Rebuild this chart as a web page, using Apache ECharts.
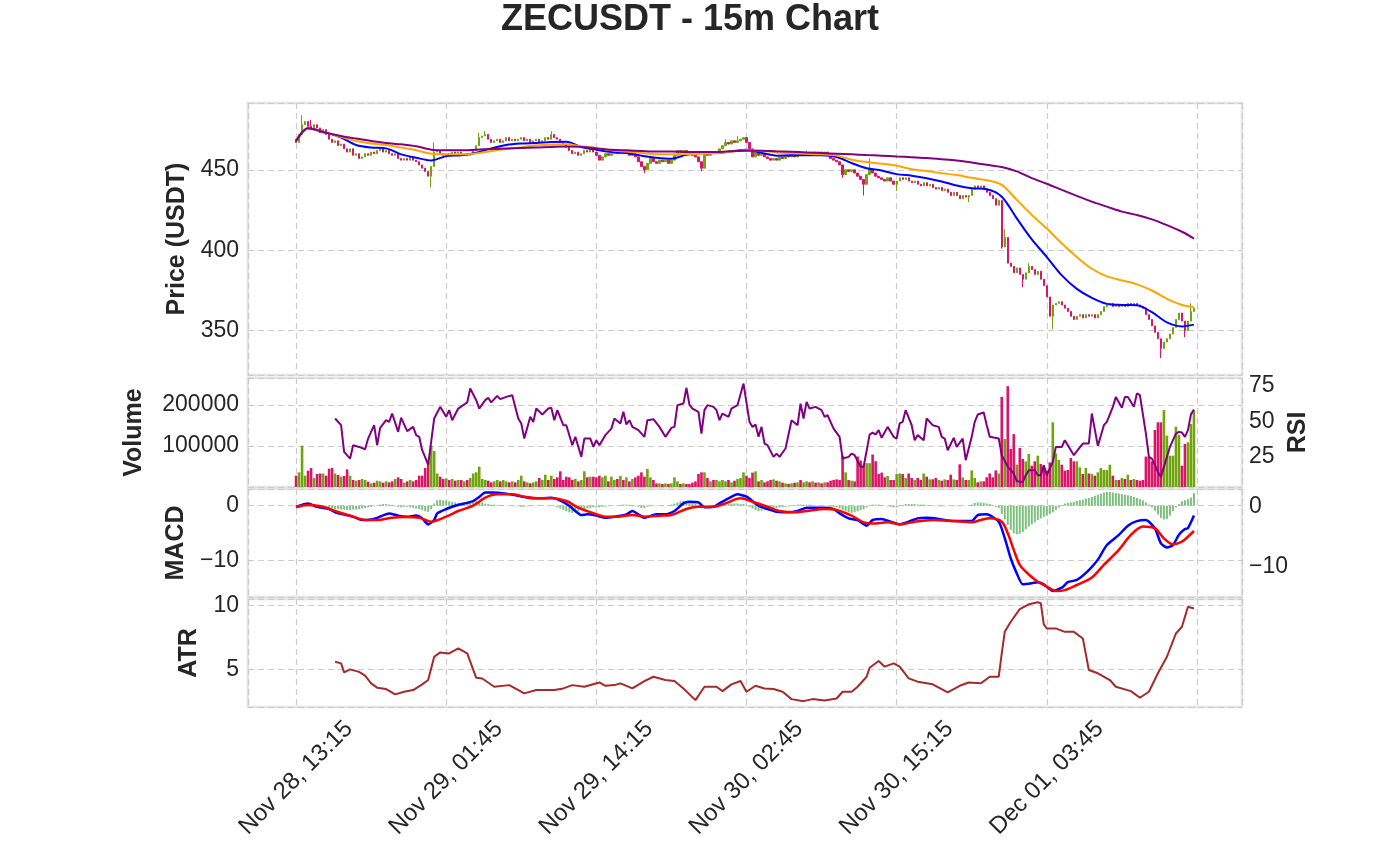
<!DOCTYPE html>
<html>
<head>
<meta charset="utf-8">
<title>ZECUSDT - 15m Chart</title>
<script src="https://cdn.jsdelivr.net/npm/echarts@6/dist/echarts.min.js"></script>
<style>
html, body { margin: 0; padding: 0; background: #fff; }
#app { width: 1380px; height: 862px; }
</style>
</head>
<body>
<div id="app"></div>
<script>
// x axis: candle index of each labelled tick
var tickIdx = [0, 50, 100, 150, 200, 250];
var tickLabels = ['Nov 28, 13:15', 'Nov 29, 01:45', 'Nov 29, 14:15', 'Nov 30, 02:45', 'Nov 30, 15:15', 'Dec 01, 03:45'];

// 15m candles, open of each candle = previous close
var firstOpen = 469;
var closes = [
  467,472,478,480,477,475,478,476,473,475,
  472,469,467,468,465,466,463,461,463,459,
  460,457,458,460,459,461,460,462,463,461,
  462,460,459,460,457,456,457,456,458,456,
  455,453,451,449,446,452,461,462,460,459,
  460,459,461,460,461,459,460,459,460,462,
  465,470,471,472,469,467,468,469,467,468,
  470,468,469,468,469,470,468,469,467,468,
  469,467,468,470,469,472,470,469,467,466,
  464,462,460,461,459,460,462,461,463,461,
  459,456,458,460,459,460,461,460,461,460,
  461,459,460,458,455,452,450,454,457,455,
  454,456,455,456,454,456,459,462,461,462,
  461,460,459,458,455,451,460,459,461,460,
  461,463,465,467,466,468,467,468,469,470,
  467,463,458,461,459,460,458,457,456,457,
  456,458,457,459,458,459,458,460,459,460,
  461,460,461,460,461,460,461,459,457,456,
  455,453,447,450,449,450,448,446,444,441,
  447,450,448,446,445,444,443,445,443,441,
  443,445,444,445,443,442,443,441,440,442,
  440,441,439,438,439,437,438,436,434,436,
  434,432,434,433,434,438,440,439,440,438,
  436,434,432,428,431,402,408,392,390,386,
  389,385,382,386,390,388,385,387,382,378,
  371,359,366,367,368,366,364,362,359,357,
  359,360,358,360,359,360,358,360,362,365,
  366,367,365,366,365,366,365,367,366,367,
  366,365,364,360,357,353,349,345,339,343,
  345,348,352,357,361,356,350,356,362,364
];
// visible long wicks [index, price]
var wickHighs = [[2, 484], [5, 481], [46, 467], [61, 473], [63, 474], [85, 474], [143, 469], [147, 471], [170, 462], [191, 457], [236, 413], [244, 392], [298, 367]];
var wickLows = [[45, 439], [116, 448], [135, 449], [182, 445], [189, 434], [200, 437], [224, 430], [235, 401], [242, 377], [252, 351], [288, 333], [296, 346]];

var volumes = [
  27600,35800,100800,27600,39800,46300,22000,31700,33000,33000,
  27600,44600,46300,33000,29300,25200,26800,43000,27600,17100,
  15400,17100,19500,17100,13000,8900,10600,15400,13800,10600,
  13800,11400,13800,19500,23600,19500,10600,13800,17100,13800,
  17100,27600,27600,46300,62000,101000,88000,33000,25200,19500,
  21100,17100,19500,15400,17100,17100,13800,17100,22000,33000,
  35800,49600,19500,17100,15400,11400,13800,17100,13800,17100,
  13800,11400,13800,11400,17100,27600,13800,11400,8900,11400,
  13800,22000,17100,30100,17100,27600,19500,23600,38300,17100,
  25200,23600,17100,19500,13800,17100,38300,23600,25200,25200,
  23600,27600,23600,27600,13800,25200,17100,19500,26800,17100,
  23600,13800,19500,23600,27600,35800,25200,43900,23600,17100,
  8900,8900,7300,8900,7300,8900,23600,13800,7300,8900,
  7300,7300,10600,13800,31700,35800,35800,22000,13800,17100,
  17100,13800,17100,13800,17100,11400,15400,19500,22000,35800,
  27600,22000,35000,38300,13800,17100,11400,13800,17100,18700,
  15400,13800,10600,8900,7300,8900,10600,11400,17100,11400,
  13800,11400,13800,10600,11400,8900,11400,11400,15400,17100,
  18700,17100,76600,35800,17100,15400,13800,74300,64600,52400,
  58100,58100,79200,63000,31700,35000,23600,26800,17100,17100,
  31700,33000,31700,22000,33000,22000,17100,22000,17100,33000,
  25200,18700,18700,22000,17100,15400,18700,17100,30100,18700,
  17100,55300,23600,17100,17100,40600,22000,11400,13800,13800,
  23600,33000,23600,40600,33000,220000,117000,246000,92700,129000,
  54500,95100,68300,62600,80500,52000,62600,76400,56100,48000,
  39800,60000,157800,82100,65900,54500,39800,41500,70700,62600,
  62600,48000,31700,46300,33000,31700,27600,35800,46300,41500,
  41500,54500,27600,17100,17100,22000,19500,30100,17100,19500,
  17100,15400,17100,74300,74300,62600,139000,157800,157800,187800,
  125200,76400,76400,147100,127600,52000,104900,109000,153700,186200
];

// moving averages, read every few candles
var emaIdx = [0,4,10,15,20,25,30,35,40,45,50,55,60,65,70,75,80,85,90,95,100,105,110,115,120,125,130,135,140,145,150,155,160,165,170,175,180,185,190,195,200,205,210,215,220,225,230,235,240,245,250,255,260,265,270,275,280,285,290,295,299];
var emaFast = [467.9,475.8,473.1,470.0,465.4,463.8,463.3,459.6,457.5,455.8,458.5,459.0,460.6,463.3,465.4,466.3,466.7,467.3,467.5,464.2,462.5,461.0,460.4,458.8,457.5,456.9,459.4,460.4,460.4,461.5,462.5,460.5,458.8,459.0,459.0,459.0,457.9,454.2,451.0,449.6,447.3,446.3,444.8,442.7,440.2,438.5,437.9,433.3,419.8,406.7,395.8,384.4,376.0,370.4,366.7,366.0,365.8,361.5,355.2,352.7,353.8];
var emaMid = [467.9,475.6,473.1,470.4,467.9,466.3,465.4,463.8,462.1,460.0,459.6,459.6,460.2,461.7,462.9,464.0,465.2,465.6,465.8,464.6,463.5,462.1,461.3,460.4,459.6,459.6,459.8,460.0,460.4,461.3,462.1,461.8,460.8,460.4,460.0,459.6,458.8,456.3,454.8,453.8,452.5,450.4,449.2,447.9,446.7,445.0,443.5,440.6,431.3,421.9,413.5,404.2,395.8,388.5,383.8,381.3,378.8,375.0,369.8,366.0,364.6];
var emaSlow = [467.9,475.8,473.0,471.0,469.4,467.9,466.7,465.8,464.6,462.5,462.1,462.1,462.5,462.9,463.3,463.6,463.8,464.2,464.4,464.2,463.3,462.5,462.1,461.7,461.3,461.3,461.0,461.0,461.0,461.5,461.9,461.9,461.5,461.2,460.8,460.4,460.0,459.6,459.2,458.8,458.3,457.8,457.3,456.6,455.8,454.5,453.1,451.7,449.0,444.8,441.3,437.5,433.8,430.2,427.1,424.0,421.9,419.2,415.6,411.5,407.3];

// RSI [index, value]
var rsiPoints = [[13,52.1],[15,47.4],[16,28.6],[18,23.9],[19,33.3],[21,32.1],[23,30.5],[24,38.0],[26,47.4],[27,33.3],[28,45.5],[30,50.9],[31,49.7],[32,55.6],[34,42.7],[35,52.6],[37,43.2],[39,46.2],[40,40.4],[41,39.2],[42,29.8],[44,19.7],[46,52.1],[48,60.3],[50,53.3],[51,58.0],[52,50.9],[54,59.1],[57,63.4],[58,73.2],[60,65.0],[61,59.1],[63,65.0],[64,66.6],[65,63.4],[67,68.0],[68,65.7],[70,67.3],[72,68.5],[74,52.1],[75,48.6],[76,38.0],[78,53.3],[79,49.7],[80,59.1],[82,54.9],[84,59.1],[85,59.6],[86,50.9],[87,58.0],[89,47.4],[90,47.4],[92,33.3],[93,39.2],[95,25.1],[96,38.0],[98,38.0],[99,32.1],[100,36.8],[101,33.3],[103,40.4],[105,45.0],[106,52.1],[108,48.6],[109,56.8],[110,47.9],[111,50.9],[112,46.2],[114,43.9],[116,39.2],[117,50.9],[119,51.6],[121,46.2],[123,39.2],[125,45.5],[126,46.2],[127,61.5],[129,62.6],[130,73.7],[131,61.9],[132,59.1],[134,56.8],[135,41.5],[136,58.0],[137,61.5],[139,60.3],[140,58.0],[141,50.9],[142,55.6],[144,53.3],[145,59.1],[147,61.5],[149,76.7],[151,49.7],[152,46.2],[153,47.9],[154,39.2],[155,46.2],[156,34.5],[157,33.3],[159,25.1],[160,27.4],[161,25.1],[163,31.0],[165,50.9],[167,47.4],[168,62.6],[169,52.1],[170,63.8],[171,59.1],[173,60.3],[175,58.0],[176,53.3],[177,54.4],[179,45.0],[181,39.2],[182,23.9],[184,25.1],[185,27.4],[186,26.3],[188,18.1],[189,18.1],[191,40.8],[192,42.2],[193,40.8],[194,43.9],[195,38.5],[197,46.2],[199,39.2],[200,38.0],[201,48.6],[202,49.7],[203,58.0],[205,47.4],[206,36.8],[207,40.4],[209,36.8],[210,52.1],[212,47.4],[214,46.2],[215,39.2],[216,38.0],[217,29.8],[219,38.5],[220,32.1],[222,38.0],[223,22.8],[225,39.2],[226,49.7],[227,54.9],[229,56.3],[230,47.4],[231,39.2],[234,38.0],[235,26.3],[237,18.1],[239,13.4],[240,8.0],[242,7.5],[243,12.2],[244,15.7],[246,15.7],[247,12.2],[248,12.2],[249,19.2],[250,12.2],[252,21.6],[253,32.1],[255,32.1],[256,36.8],[259,26.3],[260,29.1],[262,34.5],[264,34.5],[265,55.6],[267,32.8],[269,47.4],[270,49.7],[272,60.3],[273,67.3],[275,59.6],[276,67.3],[277,67.3],[279,60.3],[280,69.7],[281,68.5],[283,41.5],[284,25.1],[285,23.9],[287,14.5],[288,11.0],[290,25.1],[291,32.1],[293,41.5],[294,42.7],[295,42.2],[296,39.2],[297,43.9],[298,55.0],[299,58.4]];

// MACD line (left axis) and signal (right axis) [index, value]
var macdPoints = [[0,-0.2],[4,0.4],[7,-0.2],[11,-0.6],[13,-1.2],[16,-1.6],[19,-2.0],[22,-2.6],[25,-2.5],[27,-2.2],[31,-1.4],[34,-1.8],[37,-2.0],[40,-1.8],[42,-2.3],[44,-3.4],[46,-2.6],[47,-1.4],[50,-0.6],[53,0.0],[56,0.4],[59,0.85],[61,1.6],[63,2.4],[65,2.4],[70,2.2],[74,1.8],[79,1.34],[82,1.34],[85,1.46],[87,1.2],[91,0.0],[93,-0.96],[95,-1.7],[97,-1.57],[100,-1.8],[103,-2.2],[106,-2.0],[110,-1.57],[112,-0.96],[114,-1.57],[116,-2.2],[120,-1.57],[123,-1.57],[126,-0.96],[129,0.43],[131,0.73],[134,0.6],[136,-0.3],[139,-0.18],[141,0.43],[144,1.34],[147,2.07],[150,1.64],[154,0.0],[157,-0.6],[160,-1.08],[164,-1.2],[167,-0.96],[170,-0.36],[175,-0.36],[179,-0.6],[181,-1.4],[184,-2.3],[187,-2.6],[190,-3.63],[192,-2.6],[195,-2.4],[198,-2.9],[201,-3.4],[204,-2.9],[207,-2.3],[210,-2.2],[214,-2.4],[217,-2.7],[220,-2.8],[225,-2.8],[227,-1.7],[230,-1.57],[234,-2.9],[236,-5.9],[238,-9.6],[240,-12.3],[242,-14.3],[245,-14.1],[247,-13.9],[249,-14.3],[252,-15.5],[255,-14.9],[257,-13.9],[260,-13.5],[264,-11.7],[267,-9.8],[270,-7.15],[274,-5.3],[277,-3.63],[280,-2.8],[283,-2.6],[286,-4.1],[288,-6.85],[290,-7.6],[292,-7.15],[294,-5.3],[296,-4.24],[297,-4.1],[299,-1.8]];
var signalPoints = [[0,-0.1],[4,0.28],[9,0.0],[13,-0.72],[18,-1.5],[23,-2.2],[27,-2.2],[32,-1.83],[36,-1.72],[41,-1.83],[45,-2.5],[50,-1.66],[54,-0.72],[59,0.17],[63,1.5],[67,2.06],[72,2.06],[76,1.67],[81,1.39],[85,1.39],[90,0.95],[94,-0.16],[99,-1.1],[103,-1.66],[107,-1.66],[112,-1.38],[116,-1.66],[121,-1.5],[125,-1.38],[130,-0.38],[134,0.0],[139,0.0],[143,0.56],[148,1.39],[152,0.83],[157,0.0],[161,-0.72],[166,-0.94],[170,-0.72],[176,-0.38],[180,-0.55],[185,-1.5],[189,-2.6],[192,-2.8],[197,-2.6],[201,-2.94],[206,-2.5],[212,-2.22],[219,-2.4],[225,-2.6],[228,-2.22],[231,-1.94],[235,-2.5],[237,-4.44],[239,-7.2],[241,-9.7],[244,-11.3],[247,-12.5],[250,-13.3],[253,-14.05],[256,-13.9],[260,-13.05],[265,-11.8],[269,-9.7],[274,-7.2],[278,-4.7],[282,-3.3],[286,-3.6],[289,-5.27],[292,-6.27],[295,-5.83],[297,-5.0],[299,-4.05]];
var histVals = [
  0.1,0.2,0.3,0.3,0.3,0.2,0.1,0.0,-0.1,-0.2,
  -0.3,-0.4,-0.5,-0.6,-0.6,-0.7,-0.7,-0.8,-0.8,-0.7,
  -0.7,-0.6,-0.5,-0.4,-0.3,-0.2,-0.1,0.1,0.2,0.3,
  0.3,0.2,0.1,-0.1,-0.2,-0.3,-0.2,-0.2,-0.3,-0.4,
  -0.5,-0.6,-0.8,-1.0,-1.1,-0.6,0.4,1.0,1.1,1.0,
  0.9,0.8,0.7,0.6,0.5,0.5,0.5,0.6,0.7,0.8,
  0.8,0.7,0.6,0.4,0.3,0.2,0.2,0.1,0.1,0.1,
  0.0,0.0,-0.1,-0.1,-0.1,-0.2,-0.2,-0.1,-0.1,0.0,
  0.0,0.1,0.0,0.0,-0.1,0.0,-0.1,-0.3,-0.5,-0.8,
  -1.0,-1.2,-1.3,-1.2,-1.0,-0.8,-0.6,-0.5,-0.4,-0.3,
  -0.3,-0.3,-0.2,-0.2,-0.1,0.0,0.0,0.1,0.1,0.2,
  0.2,0.1,0.1,-0.1,-0.2,-0.4,-0.4,-0.2,-0.1,0.0,
  -0.1,0.0,-0.1,0.0,0.1,0.2,0.4,0.6,0.8,0.9,
  0.9,0.8,0.6,0.4,0.1,-0.2,-0.1,-0.1,0.0,0.0,
  0.1,0.2,0.3,0.3,0.4,0.4,0.4,0.4,0.3,0.3,
  0.2,-0.2,-0.5,-0.8,-1.0,-0.9,-0.8,-0.6,-0.5,-0.4,
  -0.4,-0.3,-0.3,-0.2,-0.1,0.0,0.1,0.2,0.2,0.2,
  0.2,0.2,0.1,0.1,0.0,0.0,-0.1,-0.1,-0.2,-0.2,
  -0.3,-0.5,-0.8,-1.0,-1.2,-1.3,-1.2,-1.0,-0.8,-0.6,
  -0.3,0.0,0.2,0.2,0.2,0.1,0.0,-0.1,-0.2,-0.3,
  -0.3,-0.1,0.1,0.3,0.3,0.3,0.3,0.2,0.2,0.2,
  0.1,0.1,0.0,-0.1,-0.1,-0.1,-0.1,0.0,0.0,-0.1,
  -0.1,-0.1,0.0,0.0,0.1,0.2,0.5,0.6,0.6,0.5,
  0.4,0.3,0.1,-0.2,-0.4,-1.5,-2.5,-3.5,-4.4,-5.0,
  -5.2,-5.1,-4.8,-4.3,-3.8,-3.4,-3.0,-2.6,-2.3,-2.0,
  -1.8,-1.5,-1.2,-0.8,-0.3,0.1,0.4,0.5,0.6,0.7,
  0.9,1.0,1.1,1.3,1.4,1.6,1.8,2.0,2.2,2.4,
  2.5,2.5,2.4,2.3,2.2,2.1,2.0,1.9,1.8,1.6,
  1.4,1.2,1.0,0.6,0.2,-0.3,-0.9,-1.6,-2.2,-2.5,
  -2.4,-1.8,-1.0,-0.3,0.3,0.8,1.0,1.2,1.5,2.3
];

// ATR [index, value]
var atrPoints = [[13,5.6],[15,5.47],[16,4.76],[18,5.0],[21,4.8],[23,4.5],[25,3.9],[27,3.56],[30,3.45],[33,3.03],[36,3.24],[39,3.37],[42,3.82],[44,4.16],[46,5.99],[48,6.33],[51,6.25],[54,6.64],[57,6.25],[60,4.33],[62,4.28],[66,3.63],[71,3.76],[76,3.11],[80,3.37],[86,3.37],[89,3.5],[92,3.76],[96,3.63],[101,3.97],[103,3.71],[106,3.76],[108,3.9],[112,3.5],[116,4.08],[119,4.42],[123,4.16],[126,4.08],[129,3.5],[133,2.58],[136,3.63],[140,3.63],[142,3.29],[145,3.82],[148,4.08],[150,3.24],[153,3.71],[156,3.5],[159,3.45],[162,3.24],[165,2.66],[169,2.5],[172,2.66],[176,2.55],[180,2.71],[182,3.24],[185,3.24],[187,3.63],[190,4.42],[191,5.13],[194,5.66],[196,5.21],[199,5.47],[201,5.21],[204,4.29],[207,4.03],[212,3.82],[217,3.19],[221,3.71],[224,3.97],[228,3.9],[231,4.42],[234,4.42],[235,6.25],[236,7.95],[238,8.74],[241,9.74],[244,10.11],[247,10.27],[248,10.2],[249,8.54],[250,8.22],[253,8.22],[256,7.95],[259,7.95],[262,7.43],[264,4.95],[267,4.69],[271,4.16],[273,3.63],[278,3.29],[281,2.77],[284,3.24],[287,4.69],[290,5.99],[293,7.82],[295,8.35],[297,9.92],[299,9.79]];

var FONT = '"Liberation Sans", Arial, sans-serif';
var INK = '#262626';
var UP = '#6fa40c', DOWN = '#dc1468';

var hiMap = {}, loMap = {};
wickHighs.forEach(function (w) { hiMap[w[0]] = w[1]; });
wickLows.forEach(function (w) { loMap[w[0]] = w[1]; });

var candles = closes.map(function (c, i) {
  var o = i === 0 ? firstOpen : closes[i - 1];
  var h = hiMap[i] != null ? hiMap[i] : Math.max(o, c);
  var l = loMap[i] != null ? loMap[i] : Math.min(o, c);
  return [i, o, c, l, h];
});

var volData = volumes.map(function (v, i) {
  var o = i === 0 ? firstOpen : closes[i - 1];
  return { value: [i, v], itemStyle: { color: closes[i] >= o ? UP : DOWN } };
});

function zipIdx(idx, vals) { return idx.map(function (x, k) { return [x, vals[k]]; }); }

var dashed = { show: true, lineStyle: { color: '#cccccc', width: 1.2, type: [6, 4] } };

function xAxisFor(gi, withLabels) {
  return {
    type: 'value', gridIndex: gi, min: -16, max: 315,
    minInterval: 50, maxInterval: 50,
    axisLine: { show: false }, axisTick: { show: false },
    splitLine: dashed,
    axisLabel: withLabels ? {
      show: true, rotate: 45, align: 'center', verticalAlign: 'middle', margin: 71,
      fontSize: 24, color: INK, fontFamily: FONT,
      showMinLabel: false, showMaxLabel: false,
      formatter: function (v) { var k = tickIdx.indexOf(v); return k < 0 ? '' : tickLabels[k]; }
    } : { show: false }
  };
}

function signed(v) { return v < 0 ? '\u2212' + (-v) : String(v); }

function yAxisFor(gi, side, min, max, step, name, gap, withGrid) {
  return {
    type: 'value', gridIndex: gi, position: side, min: min, max: max,
    minInterval: step, maxInterval: step,
    name: name, nameLocation: 'middle', nameGap: gap,
    nameTextStyle: { fontSize: 25, fontWeight: 'bold', color: INK, fontFamily: FONT },
    axisLine: { show: false }, axisTick: { show: false },
    splitLine: withGrid ? dashed : { show: false },
    axisLabel: {
      fontSize: 23, color: INK, fontFamily: FONT, margin: side === 'left' ? 9 : 7,
      showMinLabel: false, showMaxLabel: false, formatter: signed
    }
  };
}

var gridBase = { show: true, borderColor: '#e3e3e3', borderWidth: 2.5, backgroundColor: '#fff', left: 248, width: 994 };

var myChart = echarts.init(document.getElementById('app'));
var option = {
  animation: false,
  backgroundColor: '#fff',
  title: {
    text: 'ZECUSDT - 15m Chart', left: 'center', top: 2, padding: 0,
    textStyle: { fontSize: 36, fontWeight: 'bold', color: INK, fontFamily: FONT }
  },
  grid: [
    Object.assign({ top: 103, height: 272 }, gridBase),
    Object.assign({ top: 378, height: 109 }, gridBase),
    Object.assign({ top: 489, height: 108 }, gridBase),
    Object.assign({ top: 599, height: 108 }, gridBase)
  ],
  xAxis: [xAxisFor(0, false), xAxisFor(1, false), xAxisFor(2, false), xAxisFor(3, true)],
  yAxis: [
    yAxisFor(0, 'left', 322.5, 491.5, 50, 'Price (USDT)', 58, true),
    yAxisFor(1, 'left', 0, 265900, 100000, 'Volume', 101, true),
    yAxisFor(1, 'right', 3.9, 80.6, 25, 'RSI', 41, false),
    yAxisFor(2, 'left', -16.6, 3.04, 10, 'MACD', 54, true),
    yAxisFor(2, 'right', -15.05, 2.95, 10, '', 40, false),
    yAxisFor(3, 'left', 2.04, 10.53, 5, 'ATR', 46, true)
  ],
  series: [
    {
      type: 'candlestick', xAxisIndex: 0, yAxisIndex: 0, data: candles, barWidth: 1.8,
      itemStyle: { color: UP, color0: DOWN, borderColor: UP, borderColor0: DOWN, borderWidth: 1 }
    },
    { type: 'line', xAxisIndex: 0, yAxisIndex: 0, data: zipIdx(emaIdx, emaFast), showSymbol: false, smooth: 0.3, lineStyle: { color: '#0000ff', width: 2 } },
    { type: 'line', xAxisIndex: 0, yAxisIndex: 0, data: zipIdx(emaIdx, emaMid), showSymbol: false, smooth: 0.3, lineStyle: { color: '#ffa500', width: 2 } },
    { type: 'line', xAxisIndex: 0, yAxisIndex: 0, data: zipIdx(emaIdx, emaSlow), showSymbol: false, smooth: 0.3, lineStyle: { color: '#800080', width: 2 } },
    { type: 'bar', xAxisIndex: 1, yAxisIndex: 1, data: volData, barWidth: 2.6 },
    { type: 'line', xAxisIndex: 1, yAxisIndex: 2, data: rsiPoints, showSymbol: false, lineStyle: { color: '#800080', width: 2 } },
    {
      type: 'bar', xAxisIndex: 2, yAxisIndex: 3, barWidth: 2,
      data: histVals.map(function (h, i) { return [i, h]; }),
      itemStyle: { color: '#7fbf7f' }
    },
    { type: 'line', xAxisIndex: 2, yAxisIndex: 3, data: macdPoints, showSymbol: false, smooth: 0.2, lineStyle: { color: '#0000ff', width: 2.5 } },
    { type: 'line', xAxisIndex: 2, yAxisIndex: 4, data: signalPoints, showSymbol: false, smooth: 0.3, lineStyle: { color: '#ff0000', width: 2.5 } },
    { type: 'line', xAxisIndex: 3, yAxisIndex: 5, data: atrPoints, showSymbol: false, lineStyle: { color: '#a52a2a', width: 2 } }
  ]
};
myChart.setOption(option);
</script>
</body>
</html>
